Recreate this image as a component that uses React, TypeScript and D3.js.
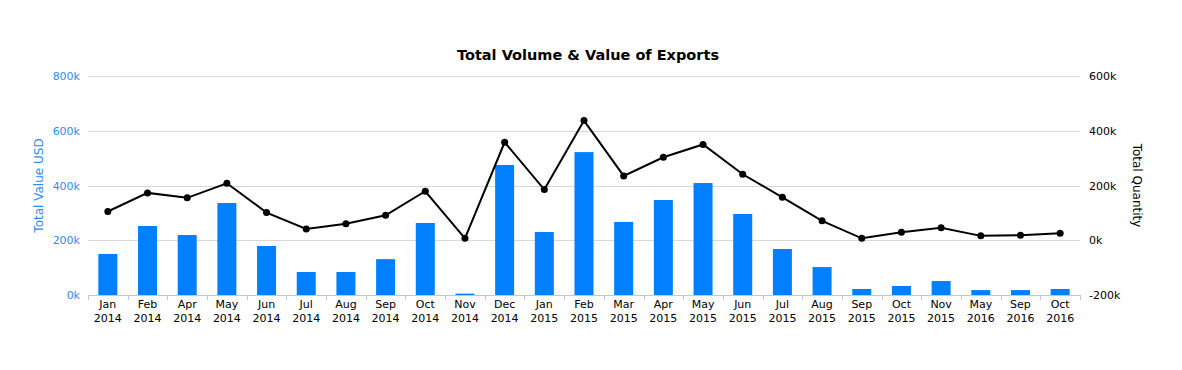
import React, { useRef, useEffect } from 'react';
import * as d3 from 'd3';

// Category labels (month, year)
const months = ["Jan", "Feb", "Apr", "May", "Jun", "Jul", "Aug", "Sep", "Oct", "Nov", "Dec", "Jan", "Feb", "Mar", "Apr", "May", "Jun", "Jul", "Aug", "Sep", "Oct", "Nov", "May", "Sep", "Oct"];
const years = ["2014", "2014", "2014", "2014", "2014", "2014", "2014", "2014", "2014", "2014", "2014", "2015", "2015", "2015", "2015", "2015", "2015", "2015", "2015", "2015", "2015", "2015", "2016", "2016", "2016"];

// Total value USD (bars, left axis)
const totalValue = [150000, 252000, 219000, 336000, 179000, 84000, 84000, 131000, 263000, 5000, 475000, 230000, 522000, 267000, 347000, 409000, 296000, 168000, 102000, 22000, 33000, 51000, 18000, 18000, 22000];

// Total quantity (line, right axis)
const totalQuantity = [105000, 173000, 155000, 208000, 101000, 41000, 60000, 91000, 179000, 7000, 358000, 185000, 437000, 235000, 303000, 350000, 241000, 157000, 71000, 7000, 29000, 46000, 16000, 18000, 26000];

const leftTicks = [0, 200000, 400000, 600000, 800000];
const rightTicks = [-200000, 0, 200000, 400000, 600000];

const FONT = '"DejaVu Sans", "Lucida Grande", sans-serif';
const BAR_COLOR = '#0080ff';
const AXIS_BLUE = '#2f8cf0';

const App = () => {
  const ref = useRef<SVGSVGElement>(null);

  useEffect(() => {
    const svg = d3.select(ref.current);
    svg.selectAll('*').remove();

    const width = 1182;
    const height = 370;
    const left = 88, right = 1080, top = 76, bottom = 295;

    svg.attr('width', width).attr('height', height).style('font-family', FONT);

    const idx = d3.range(months.length);
    const x = d3.scaleBand<number>().domain(idx).range([left, right]).paddingInner(0).paddingOuter(0);
    const yL = d3.scaleLinear().domain([0, 800000]).range([bottom, top]);
    const yR = d3.scaleLinear().domain([-200000, 600000]).range([bottom, top]);

    // Title
    svg.append('text')
      .attr('x', width / 2 - 3).attr('y', 60)
      .attr('text-anchor', 'middle')
      .style('font-size', '14.5px').style('font-weight', 'bold').attr('fill', '#000')
      .text('Total Volume & Value of Exports');

    // Gridlines
    svg.append('g').selectAll('line')
      .data(leftTicks.slice(1))
      .join('line')
      .attr('x1', left).attr('x2', right)
      .attr('y1', d => Math.round(yL(d)) + 0.5).attr('y2', d => Math.round(yL(d)) + 0.5)
      .attr('stroke', '#d8d8d8').attr('stroke-width', 1);

    // Left axis labels
    svg.append('g').selectAll('text')
      .data(leftTicks)
      .join('text')
      .attr('x', 80).attr('y', d => yL(d) + 4)
      .attr('text-anchor', 'end')
      .attr('fill', AXIS_BLUE).style('font-size', '11px')
      .text(d => `${d / 1000}k`);

    // Right axis labels
    svg.append('g').selectAll('text')
      .data(rightTicks)
      .join('text')
      .attr('x', 1089).attr('y', d => yR(d) + 4)
      .attr('text-anchor', 'start')
      .attr('fill', '#000').style('font-size', '11px')
      .text(d => `${d / 1000}k`);

    // Axis titles
    svg.append('text')
      .attr('transform', `translate(43, ${(top + bottom) / 2}) rotate(-90)`)
      .attr('text-anchor', 'middle')
      .attr('fill', AXIS_BLUE).style('font-size', '12px')
      .text('Total Value USD');
    svg.append('text')
      .attr('transform', `translate(1133, ${(top + bottom) / 2}) rotate(90)`)
      .attr('text-anchor', 'middle')
      .attr('fill', '#000').style('font-size', '12px')
      .text('Total Quantity');

    // Bars
    const bw = 19;
    svg.append('g').selectAll('rect')
      .data(totalValue)
      .join('rect')
      .attr('x', (_, i) => (x(i) as number) + x.bandwidth() / 2 - bw / 2)
      .attr('width', bw)
      .attr('y', d => yL(d))
      .attr('height', d => bottom - yL(d))
      .attr('fill', BAR_COLOR);

    // X axis line and ticks
    svg.append('line')
      .attr('x1', left).attr('x2', right)
      .attr('y1', bottom + 0.5).attr('y2', bottom + 0.5)
      .attr('stroke', '#c0c8d8');
    svg.append('g').selectAll('line')
      .data(d3.range(months.length + 1))
      .join('line')
      .attr('x1', i => Math.round(left + i * x.bandwidth()) + 0.5)
      .attr('x2', i => Math.round(left + i * x.bandwidth()) + 0.5)
      .attr('y1', bottom).attr('y2', bottom + 5)
      .attr('stroke', '#c0c8d8');

    // X labels
    const lbl = svg.append('g').selectAll('text')
      .data(idx)
      .join('text')
      .attr('text-anchor', 'middle')
      .attr('fill', '#000').style('font-size', '11px');
    lbl.append('tspan')
      .attr('x', i => (x(i) as number) + x.bandwidth() / 2).attr('y', 308)
      .text(i => months[i]);
    lbl.append('tspan')
      .attr('x', i => (x(i) as number) + x.bandwidth() / 2).attr('y', 322)
      .text(i => years[i]);

    // Line
    const line = d3.line<number>()
      .x((_, i) => (x(i) as number) + x.bandwidth() / 2)
      .y(d => yR(d));
    svg.append('path')
      .datum(totalQuantity)
      .attr('d', line)
      .attr('fill', 'none').attr('stroke', '#000').attr('stroke-width', 2);
    svg.append('g').selectAll('circle')
      .data(totalQuantity)
      .join('circle')
      .attr('cx', (_, i) => (x(i) as number) + x.bandwidth() / 2)
      .attr('cy', d => yR(d))
      .attr('r', 3.5)
      .attr('fill', '#000');
  }, []);

  return <svg ref={ref} style={{ display: 'block', position: 'absolute', left: 0, top: 0 }}></svg>;
};

export default App;
